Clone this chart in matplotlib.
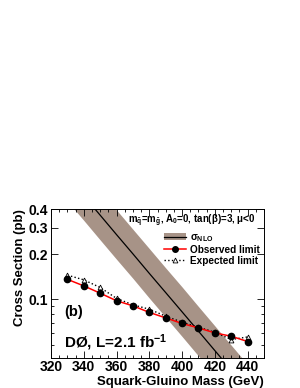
import matplotlib

matplotlib.use("Agg")
import matplotlib.pyplot as plt
from matplotlib.lines import Line2D
from matplotlib.patches import Patch
from matplotlib.ticker import FixedLocator, MultipleLocator, NullFormatter

plt.rcParams["font.family"] = ["Liberation Sans", "DejaVu Sans"]
plt.rcParams["font.weight"] = "bold"
plt.rcParams["mathtext.default"] = "regular"

mass = [330, 340, 350, 360, 370, 380, 390, 400, 410, 420, 430, 440]
observed = [0.136, 0.123, 0.110, 0.0979, 0.0906, 0.0819, 0.0753, 0.0691,
            0.0646, 0.0598, 0.0568, 0.0524]
expected = [0.145, 0.135, 0.120, 0.1015, 0.092, 0.086, 0.0773, 0.0705,
            0.0653, 0.0604, 0.054, 0.0562]

theory_mass = [320, 330, 340, 350, 360, 370, 380, 390, 400, 410, 420, 430, 440, 450]
sigma_nlo = [0.88, 0.658, 0.490, 0.364, 0.270, 0.201, 0.149, 0.111, 0.0826,
             0.0614, 0.0456, 0.0339, 0.0252, 0.0188]
sigma_up = [1.29, 0.96, 0.715, 0.531, 0.394, 0.293, 0.218, 0.162, 0.121,
            0.0896, 0.0666, 0.0495, 0.0368, 0.0274]
sigma_dn = [0.603, 0.451, 0.336, 0.249, 0.185, 0.138, 0.102, 0.076, 0.0566,
            0.042, 0.0312, 0.0232, 0.0173, 0.0129]

band_color = "#a79387"

fig = plt.figure(figsize=(3.0, 3.88), dpi=100)
ax = fig.add_axes([0.17, 0.0786, 0.71, 0.3827])

ax.fill_between(theory_mass, sigma_dn, sigma_up, color=band_color, lw=0, zorder=1)
ax.plot(theory_mass, sigma_nlo, color="black", lw=0.9, zorder=2)
ax.plot(mass, expected, ls=":", color="black", lw=1.0, marker="^",
        mfc="white", mec="black", ms=3.5, mew=0.6, zorder=3)
ax.plot(mass, observed, ls="-", color="red", lw=1.1, marker="o",
        mfc="black", mec="black", ms=4.5, zorder=4)

ax.set_yscale("log")
ax.set_xlim(320, 450)
ax.set_ylim(0.041, 0.4)

ax.xaxis.set_major_locator(MultipleLocator(20))
ax.xaxis.set_minor_locator(MultipleLocator(5))
ax.yaxis.set_major_locator(FixedLocator([0.1, 0.2, 0.3, 0.4]))
ax.yaxis.set_minor_locator(FixedLocator([0.05, 0.06, 0.07, 0.08, 0.09]))
ax.yaxis.set_minor_formatter(NullFormatter())
ax.set_yticklabels(["0.1", "0.2", "0.3", "0.4"])
ax.tick_params(which="both", direction="in", top=True, right=True,
               labelsize=10, pad=2, width=0.6)
ax.tick_params(which="major", length=5)
ax.tick_params(which="minor", length=2.5)
for lbl in ax.get_xticklabels() + ax.get_yticklabels():
    lbl.set_fontweight("bold")
for sp in ax.spines.values():
    sp.set_linewidth(0.7)

ax.set_xlabel("Squark-Gluino Mass (GeV)", fontsize=9.5, fontweight="bold",
              loc="right", labelpad=1)
ax.set_ylabel("Cross Section (pb)", fontsize=9.5, fontweight="bold",
              loc="top", labelpad=2)

ax.text(0.36, 0.975, r"$m_{\tilde{q}}$=$m_{\tilde{g}}$, A$_0$=0, tan($\beta$)=3, $\mu$<0",
        transform=ax.transAxes, fontsize=7, fontweight="bold", va="top")

handles = [
    (Patch(facecolor=band_color, edgecolor="none"), Line2D([], [], color="black", lw=0.9)),
    Line2D([], [], color="red", lw=1.1, marker="o", mfc="black", mec="black", ms=4),
    Line2D([], [], color="black", ls=":", lw=1.0, marker="^", mfc="white",
           mec="black", ms=3.5, mew=0.6),
]
labels = [r"$\sigma_{NLO}$", "Observed limit", "Expected limit"]
leg = ax.legend(handles, labels, loc="upper left", bbox_to_anchor=(0.53, 0.845),
                frameon=False, fontsize=7.2, handlelength=2.2, handletextpad=0.4,
                labelspacing=0.1, borderaxespad=0, borderpad=0)
for t in leg.get_texts():
    t.set_fontweight("bold")

ax.text(0.06, 0.28, "(b)", transform=ax.transAxes, fontsize=10.5, fontweight="bold")
ax.text(0.06, 0.07, "DØ, L=2.1 fb$^{-1}$", transform=ax.transAxes,
        fontsize=11, fontweight="bold")

fig.savefig("out.png", dpi=100)
